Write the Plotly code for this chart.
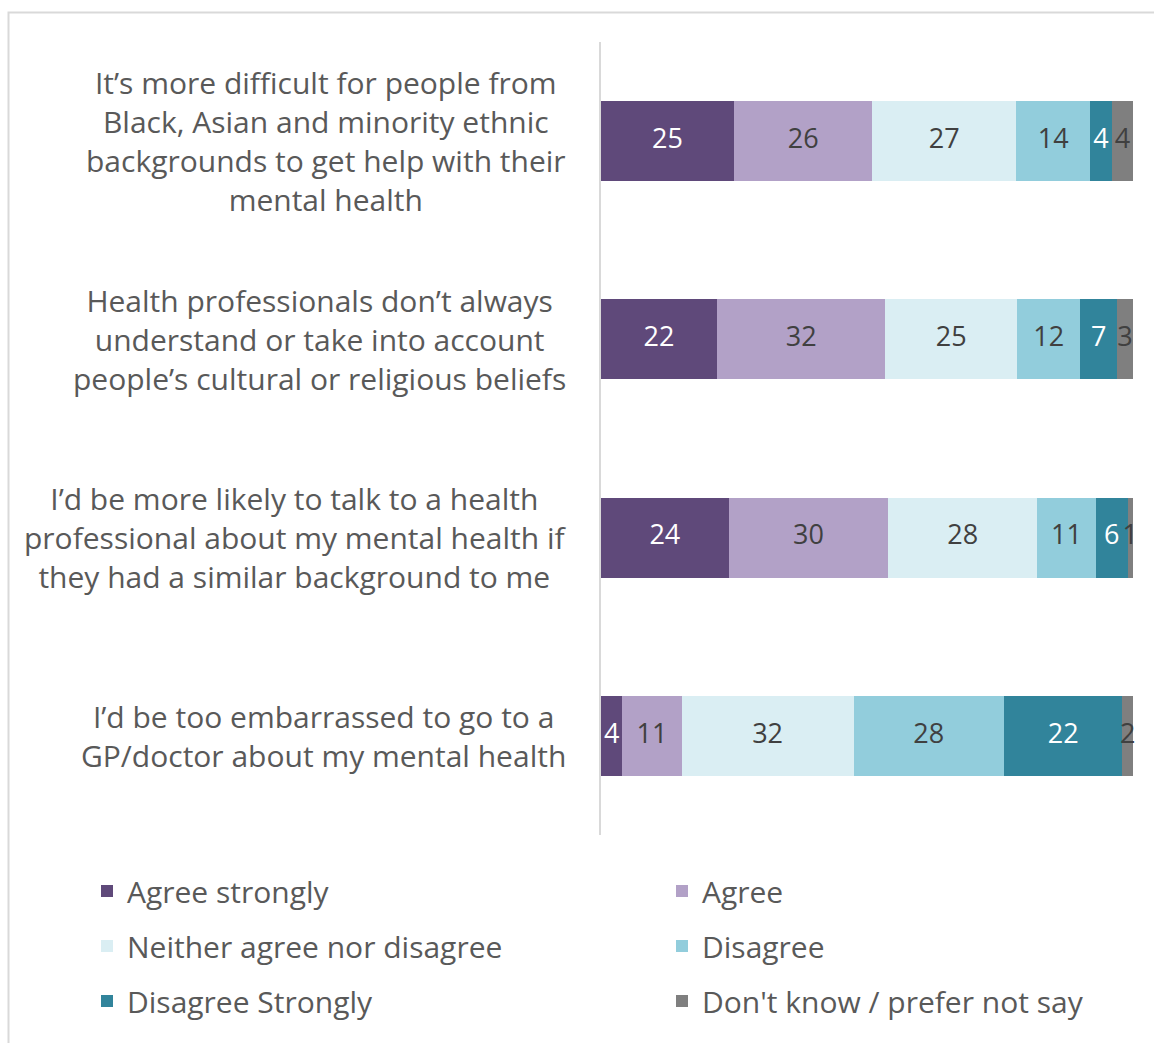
import plotly.graph_objects as go

categories = [
    "It’s more difficult for people from<br>Black, Asian and minority ethnic<br>backgrounds to get help with their<br>mental health",
    "Health professionals don’t always<br>understand or take into account<br>people’s cultural or religious beliefs",
    "I’d be more likely to talk to a health<br>professional about my mental health if<br>they had a similar background to me",
    "I’d be too embarrassed to go to a<br>GP/doctor about my mental health",
]
series_names = ["Agree strongly", "Agree", "Neither agree nor disagree",
                "Disagree", "Disagree Strongly", "Don't know / prefer not say"]
agree_strongly = [25, 22, 24, 4]
agree = [26, 32, 30, 11]
neither = [27, 25, 28, 32]
disagree = [14, 12, 11, 28]
disagree_strongly = [4, 7, 6, 22]
dont_know = [4, 3, 1, 2]

series_values = [agree_strongly, agree, neither, disagree, disagree_strongly, dont_know]
colors = ["#5f497a", "#b2a1c7", "#daeef3", "#92cddc", "#31849b", "#7f7f7f"]
label_colors = ["#ffffff", "#404040", "#404040", "#404040", "#ffffff", "#404040"]
legend_ids = ["legend", "legend2", "legend", "legend2", "legend", "legend2"]

FONT = "Open Sans"
ypos = list(range(len(categories)))

fig = go.Figure()
totals = [sum(s[i] for s in series_values) for i in range(len(categories))]
cum = [0] * len(categories)
for name, vals, col, tcol, lg in zip(series_names, series_values, colors, label_colors, legend_ids):
    fig.add_trace(go.Bar(
        y=ypos, x=vals, orientation="h", name=name,
        marker=dict(color=col, line=dict(width=0)),
        legend=lg, legendgroup=name, hoverinfo="x+name",
    ))
    mids = [(cum[i] + vals[i] / 2) / totals[i] * 100 for i in range(len(categories))]
    fig.add_trace(go.Scatter(
        y=ypos, x=mids, mode="text", text=[str(v) for v in vals],
        textfont=dict(family=FONT, size=27, color=tcol),
        showlegend=False, hoverinfo="skip", cliponaxis=False,
    ))
    cum = [cum[i] + vals[i] for i in range(len(categories))]

for i, cat in enumerate(categories):
    fig.add_annotation(
        x=-0.062, xref="paper", y=i, yref="y", text=cat, showarrow=False,
        xanchor="right", yanchor="middle", align="center",
        font=dict(family=FONT, size=30, color="#595959"),
    )

W, H, L, R, T, B = 1154, 1043, 601, 21, 42, 208
pw, ph = W - L - R, H - T - B
fig.add_shape(type="rect", xref="paper", yref="paper",
              x0=(8.5 - L) / pw, x1=(W + 10 - L) / pw,
              y0=(H - B - 12.5) / ph, y1=-(B + 20) / ph,
              line=dict(color="#d9d9d9", width=2), layer="below")

legend_common = dict(orientation="v", traceorder="grouped", tracegroupgap=13,
                     font=dict(family=FONT, size=30, color="#595959"),
                     bgcolor="rgba(0,0,0,0)", yanchor="top", xanchor="left")
fig.update_layout(
    width=W, height=H,
    margin=dict(l=L, r=R, t=T, b=B),
    barmode="stack", barnorm="percent", bargap=0.597,
    plot_bgcolor="white", paper_bgcolor="white",
    font=dict(family=FONT, color="#595959"),
    legend=dict(x=(87 - L) / pw, y=-(30) / ph, **legend_common),
    legend2=dict(x=(662 - L) / pw, y=-(30) / ph, **legend_common),
    xaxis=dict(range=[0, 100], visible=False, fixedrange=True),
    yaxis=dict(range=[3.5, -0.5], showticklabels=False, showgrid=False, zeroline=False,
               showline=True, linecolor="#d9d9d9", linewidth=2, ticks="", fixedrange=True),
)

fig.write_html("out.html")
